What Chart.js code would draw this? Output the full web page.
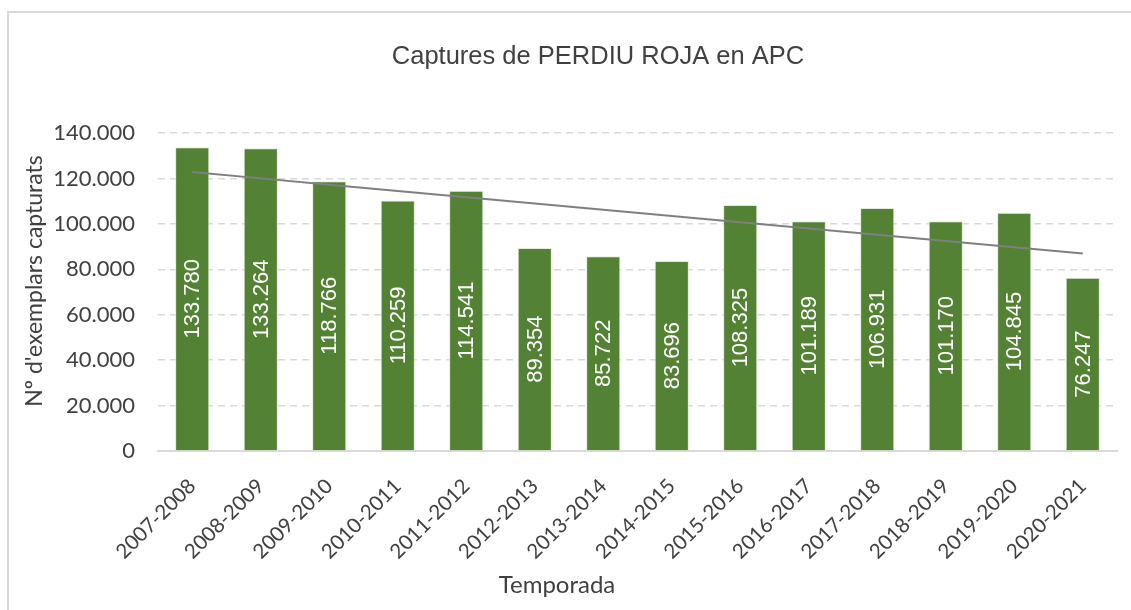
<!DOCTYPE html>
<html>
<head>
<meta charset="utf-8">
<script src="https://cdn.jsdelivr.net/npm/chart.js@4/dist/chart.umd.min.js"></script>
<style>
  html, body { margin: 0; padding: 0; background: #fff; }
  #wrap { position: relative; width: 1131px; height: 610px; overflow: hidden; }
  #frame { position: absolute; left: 7px; top: 11px; width: 1200px; height: 700px;
           border-left: 2px solid #d9d9d9; border-top: 2px solid #d9d9d9; box-sizing: border-box; }
  canvas { position: absolute; left: 0; top: 0; }
</style>
</head>
<body>
<div id="wrap">
  <div id="frame"></div>
  <canvas id="c" width="1131" height="610"></canvas>
</div>
<script>
const categories = ['2007-2008','2008-2009','2009-2010','2010-2011','2011-2012','2012-2013','2013-2014',
  '2014-2015','2015-2016','2016-2017','2017-2018','2018-2019','2019-2020','2020-2021'];
const captures = [133780,133264,118766,110259,114541,89354,85722,83696,108325,101189,106931,101170,104845,76247];
const yTicks = [0,20000,40000,60000,80000,100000,120000,140000];
const chartTitle = 'Captures de PERDIU ROJA en APC';
const yTitle = "Nº d'exemplars capturats";
const xTitle = 'Temporada';

// Linear trendline (least squares), as Excel's linear trend
function linearTrend(vals) {
  const n = vals.length;
  let sx = 0, sy = 0, sxy = 0, sxx = 0;
  vals.forEach((v, i) => { sx += i; sy += v; sxy += i * v; sxx += i * i; });
  const b = (n * sxy - sx * sy) / (n * sxx - sx * sx);
  const a = (sy - b * sx) / n;
  return vals.map((_, i) => a + b * i);
}
const trend = linearTrend(captures);

function fmt(v) {
  return Math.round(v).toString().replace(/\B(?=(\d{3})+(?!\d))/g, '.');
}

const TXT = '#404040';

const titlePlugin = {
  id: 'customTitles',
  afterDraw(chart) {
    const ctx = chart.ctx;
    ctx.save();
    ctx.fillStyle = TXT;
    ctx.textAlign = 'center';
    ctx.textBaseline = 'middle';
    ctx.font = '25.5px "Liberation Sans", Arial, sans-serif';
    ctx.fillText(chartTitle, 598, 57);
    ctx.font = '24px Lato, sans-serif';
    ctx.fillText(xTitle, 557, 585);
    ctx.save();
    ctx.translate(35, 281);
    ctx.rotate(-Math.PI / 2);
    ctx.font = '23px Lato, sans-serif';
    ctx.fillText(yTitle, 0, 0);
    ctx.restore();
    ctx.restore();
  }
};

const labelPlugin = {
  id: 'barLabels',
  afterDatasetsDraw(chart) {
    const ctx = chart.ctx;
    const meta = chart.getDatasetMeta(1);
    ctx.save();
    ctx.font = '22px "Liberation Sans", Arial, sans-serif';
    ctx.fillStyle = '#ffffff';
    ctx.textAlign = 'center';
    ctx.textBaseline = 'middle';
    meta.data.forEach((bar, i) => {
      const cy = (bar.y + bar.base) / 2;
      ctx.save();
      ctx.translate(bar.x, cy);
      ctx.rotate(-Math.PI / 2);
      ctx.fillText(fmt(captures[i]), 0, 1);
      ctx.restore();
    });
    ctx.restore();
  }
};

new Chart(document.getElementById('c'), {
  data: {
    labels: categories,
    datasets: [
      {
        type: 'line',
        label: 'Lineal',
        data: trend,
        borderColor: '#7f7f7f',
        borderWidth: 2,
        pointRadius: 0,
        fill: false,
        tension: 0,
        order: 0
      },
      {
        type: 'bar',
        label: 'Captures',
        data: captures,
        backgroundColor: '#548235',
        borderColor: 'rgba(225,235,215,0.9)',
        borderWidth: 1,
        barPercentage: 0.5,
        categoryPercentage: 1.0,
        order: 1
      }
    ]
  },
  options: {
    responsive: false,
    animation: false,
    layout: { padding: { left: 20, right: 14, top: 133, bottom: 11 } },
    plugins: { legend: { display: false }, tooltip: { enabled: false }, title: { display: false } },
    scales: {
      x: {
        grid: { display: false, drawTicks: false },
        border: { display: true, color: '#d9d9d9', width: 2 },
        ticks: { color: TXT, font: { family: 'Lato', size: 20.5 }, minRotation: 45, maxRotation: 45, padding: 23, autoSkip: false },
        title: { display: false },
        afterFit(scale) { scale.height = 610 - 11 - 451; }
      },
      y: {
        min: 0,
        max: 140000,
        afterBuildTicks(scale) { scale.ticks = yTicks.map(v => ({ value: v })); },
        grid: { color: '#d9d9d9', lineWidth: 1.5, drawTicks: false },
        border: { display: false, dash: [7, 5] },
        ticks: { color: TXT, font: { family: 'Lato', size: 22 }, padding: 23, callback: v => fmt(v) },
        title: { display: false },
        afterFit(scale) { scale.width = 158 - 20; }
      }
    }
  },
  plugins: [titlePlugin, labelPlugin]
});
</script>
</body>
</html>
